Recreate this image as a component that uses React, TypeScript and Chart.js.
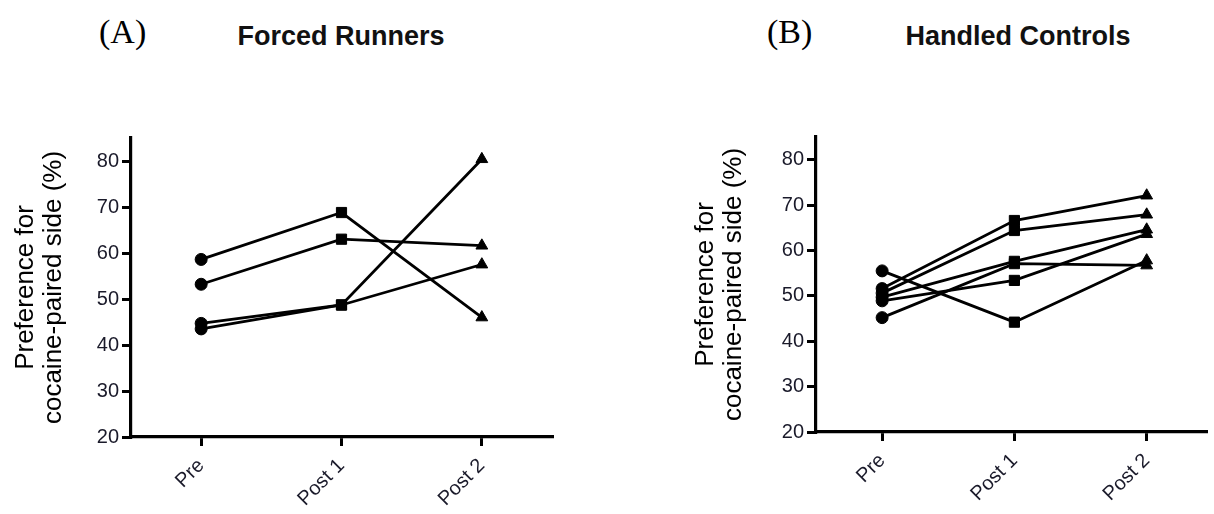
import React, { useEffect, useRef } from 'react';
import { Chart, registerables } from 'chart.js';

Chart.register(...registerables);

// ---- data ----
const timeLabels = ['Pre', 'Post 1', 'Post 2'];
const yTickValues = [20, 30, 40, 50, 60, 70, 80];
const yAxisTitle = ['Preference for', 'cocaine-paired side (%)'];

// (A) Forced Runners: one line per animal, values at Pre / Post 1 / Post 2
const runner1 = [58.6, 68.8, 46.0];
const runner2 = [53.2, 63.0, 61.6];
const runner3 = [44.7, 48.7, 80.4];
const runner4 = [43.5, 48.7, 57.5];

// (B) Handled Controls
const control1 = [51.6, 66.6, 72.1];
const control2 = [50.6, 64.4, 67.9];
const control3 = [49.7, 57.6, 64.6];
const control4 = [45.2, 57.1, 56.7];
const control5 = [48.9, 53.4, 63.6];
const control6 = [55.5, 44.2, 57.8];

const runnerSeries = [runner1, runner2, runner3, runner4];
const controlSeries = [control1, control2, control3, control4, control5, control6];

// ---- styles ----
const SANS = "'Liberation Sans', Arial, Helvetica, sans-serif";
const SERIF = "'Liberation Serif', 'Times New Roman', serif";
const markerStyles = ['circle', 'rect', 'triangle'];
const markerRadii = [6, 7.2, 6.8];

type PanelProps = {
  series: number[][];
  left: number;
  width: number;
  yAxisWidth: number;
  padTop: number;
  xAxisHeight: number;
  xMax: number;
  padRight: number;
};

function Panel({ series, left, width, yAxisWidth, padTop, xAxisHeight, xMax, padRight }: PanelProps) {
  const ref = useRef<HTMLCanvasElement>(null);
  useEffect(() => {
    if (!ref.current) return;
    const axisGrid = {
      display: true,
      drawOnChartArea: false,
      drawTicks: true,
      tickLength: 9,
      tickWidth: 3,
      tickColor: '#000',
      lineWidth: 3,
      color: '#000',
    };
    const axisBorder = { display: true, color: '#000', width: 3.2 };
    const chart = new Chart(ref.current, {
      type: 'line',
      data: {
        datasets: series.map((vals, k) => ({
          label: 'Animal ' + (k + 1),
          data: vals.map((v, i) => ({ x: i, y: v })),
          borderColor: '#000',
          backgroundColor: '#000',
          borderWidth: 2.8,
          pointStyle: markerStyles as any,
          pointRadius: markerRadii,
          pointBackgroundColor: '#000',
          pointBorderColor: '#000',
          pointBorderWidth: 1,
          tension: 0,
          fill: false,
        })),
      },
      options: {
        animation: false,
        responsive: true,
        maintainAspectRatio: false,
        layout: { padding: { top: padTop, right: padRight, left: 0, bottom: 0 } },
        plugins: {
          legend: { display: false },
          tooltip: { enabled: false },
          title: { display: false },
        },
        scales: {
          x: {
            type: 'linear',
            min: -0.5,
            max: xMax,
            afterBuildTicks: (s: any) => {
              s.ticks = timeLabels.map((_, i) => ({ value: i }));
            },
            afterFit: (s: any) => {
              s.height = xAxisHeight;
            },
            ticks: {
              autoSkip: false,
              minRotation: 45,
              maxRotation: 45,
              padding: 8,
              color: '#1a1a2a',
              font: { family: SANS, size: 20 },
              callback: (v: any) => timeLabels[v as number],
            },
            grid: axisGrid,
            border: axisBorder,
          },
          y: {
            type: 'linear',
            min: 20,
            max: 85,
            afterBuildTicks: (s: any) => {
              s.ticks = yTickValues.map((v) => ({ value: v }));
            },
            afterFit: (s: any) => {
              s.width = yAxisWidth;
            },
            ticks: {
              padding: 3,
              color: '#1a1a2a',
              font: { family: SANS, size: 20 },
            },
            title: {
              display: true,
              text: yAxisTitle,
              color: '#000',
              font: { family: SANS, size: 26, lineHeight: 28 / 26 },
              padding: { top: 12, bottom: 0 },
            },
            grid: axisGrid,
            border: axisBorder,
          },
        },
      },
    } as any);
    return () => chart.destroy();
  }, []);
  return (
    <div style={{ position: 'absolute', left, top: 0, width, height: 514 }}>
      <canvas ref={ref} />
    </div>
  );
}

const labelStyle: React.CSSProperties = {
  position: 'absolute',
  fontFamily: SERIF,
  fontSize: 34,
  lineHeight: '34px',
  color: '#000',
  whiteSpace: 'nowrap',
};
const titleStyle: React.CSSProperties = {
  position: 'absolute',
  fontFamily: SANS,
  fontWeight: 'bold',
  fontSize: 27,
  lineHeight: '27px',
  color: '#111',
  whiteSpace: 'nowrap',
  transform: 'translateX(-50%)',
};

export default function App() {
  return (
    <div
      style={{
        position: 'absolute',
        left: 0,
        top: 0,
        width: 1214,
        height: 514,
        overflow: 'hidden',
        background: '#fff',
      }}
    >
      <div style={{ ...labelStyle, left: 99, top: 15 }}>(A)</div>
      <div style={{ ...titleStyle, left: 341, top: 23 }}>Forced Runners</div>
      <div style={{ ...labelStyle, left: 767, top: 15 }}>(B)</div>
      <div style={{ ...titleStyle, left: 1018, top: 23 }}>Handled Controls</div>
      <Panel
        series={runnerSeries}
        left={0}
        width={560}
        yAxisWidth={131}
        padTop={138}
        xAxisHeight={77}
        xMax={2.5}
        padRight={8}
      />
      <Panel
        series={controlSeries}
        left={680}
        width={534}
        yAxisWidth={136}
        padTop={137}
        xAxisHeight={82}
        xMax={2.45}
        padRight={0}
      />
    </div>
  );
}
